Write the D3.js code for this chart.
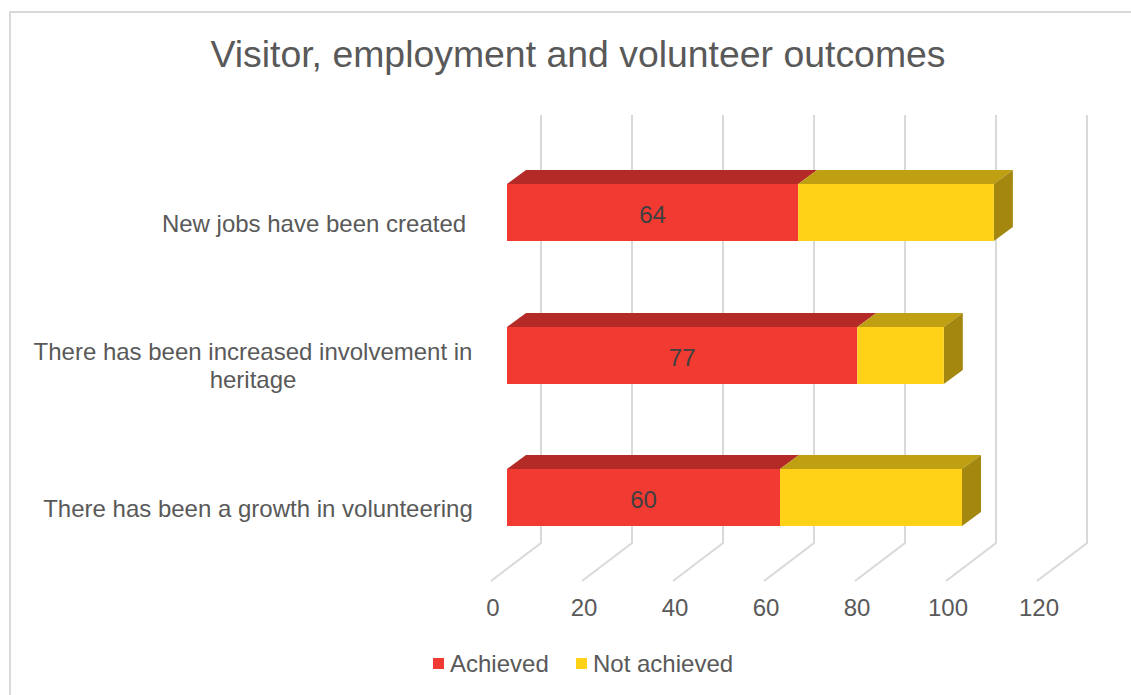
<!DOCTYPE html>
<html>
<head>
<meta charset="utf-8">
<script src="https://cdn.jsdelivr.net/npm/d3@7"></script>
<style>
  html, body { margin: 0; padding: 0; background: #fff; }
  svg { display: block; }
  text { font-family: "Liberation Sans", Arial, sans-serif; fill: #595959; }
</style>
</head>
<body>
<svg></svg>
<script>
// Chart data
const categories = ['New jobs have been created', 'There has been increased involvement in|heritage', 'There has been a growth in volunteering'];
const achieved = [64, 77, 60];
const notAchieved = [43, 19, 40];
const seriesNames = ['Achieved', 'Not achieved'];
const xTicks = [0, 20, 40, 60, 80, 100, 120];

// SVG dimensions
const width = 1131, height = 695;

// 3D depth of the plot box and of the bars
const wallDx = 50, wallDy = -38;
const barDx = 19, barDy = -14;
const floorY = 581, wallTop = 115;

// Category labels are centred on their own wrapped block
const labelCenter = [314, 253, 258];

const colors = {
  front: ['#f03a32', '#ffd217'],
  top: ['#b42a26', '#bfa012'],
  side: '#a3870f'
};

const svg = d3.select('svg').attr('width', width).attr('height', height);

// Scales: x is the front edge of the floor, y places the front face of the bars
const xScale = d3.scaleLinear().domain([0, 120]).range([491, 1037]);
const yScale = d3.scaleBand().domain(categories).range([141.25, 568.75]).paddingInner(0.6).paddingOuter(0.3);

// Chart border, only the top and left edges show
svg.append('path')
  .attr('d', `M10,${height}V12H${width}`)
  .attr('fill', 'none').attr('stroke', '#d9d9d9').attr('stroke-width', 2);

// Title
svg.append('text')
  .attr('x', 578).attr('y', 67)
  .attr('text-anchor', 'middle')
  .style('font-size', '37.4px')
  .text('Visitor, employment and volunteer outcomes');

// Gridlines: floor part and wall part
svg.append('g').selectAll('path').data(xTicks).enter().append('path')
  .attr('fill', 'none').attr('stroke', '#d9d9d9').attr('stroke-width', 2)
  .attr('d', (d) => {
    const x0 = xScale(d);
    return `M${x0},${floorY}L${x0 + wallDx},${floorY + wallDy}V${wallTop}`;
  });

// Tick labels
svg.append('g').selectAll('text').data(xTicks).enter().append('text')
  .attr('x', (d) => xScale(d) + 2)
  .attr('y', 616)
  .attr('text-anchor', 'middle')
  .style('font-size', '24px')
  .text((d) => d);

// Bars start a little in from the front of the floor
const barX = (v) => xScale(v) + 16;

const rows = svg.append('g').selectAll('g').data(categories).enter().append('g');
rows.each(function (c, i) {
  const g = d3.select(this);
  const top = Math.round(yScale(c));
  const barH = yScale.bandwidth();
  const x0 = barX(0), x1 = barX(achieved[i]), x2 = barX(achieved[i] + notAchieved[i]);

  g.append('path').attr('fill', colors.top[0])
    .attr('d', `M${x0},${top}l${barDx},${barDy}H${x1 + barDx}L${x1},${top}Z`);
  g.append('path').attr('fill', colors.top[1])
    .attr('d', `M${x1},${top}l${barDx},${barDy}H${x2 + barDx}L${x2},${top}Z`);
  g.append('path').attr('fill', colors.side)
    .attr('d', `M${x2},${top}l${barDx},${barDy}v${barH}l${-barDx},${-barDy}Z`);
  g.append('rect').attr('x', x0).attr('y', top).attr('width', x1 - x0).attr('height', barH).attr('fill', colors.front[0]);
  g.append('rect').attr('x', x1).attr('y', top).attr('width', x2 - x1).attr('height', barH).attr('fill', colors.front[1]);

  // Value label
  g.append('text')
    .attr('x', (x0 + x1) / 2)
    .attr('y', top + 39)
    .attr('text-anchor', 'middle')
    .style('font-size', '24px')
    .style('fill', '#404040')
    .text(achieved[i]);

  // Category label, "|" marks the line break
  const lines = c.split('|');
  lines.forEach((line, j) => {
    g.append('text')
      .attr('x', labelCenter[i])
      .attr('y', top + 48 - (lines.length - 1) * 15 + j * 28)
      .attr('text-anchor', 'middle')
      .style('font-size', '24px')
      .text(line);
  });
});

// Legend
const legendX = [433, 576];
const legend = svg.append('g').selectAll('g').data(seriesNames).enter().append('g');
legend.append('rect')
  .attr('x', (d, i) => legendX[i]).attr('y', 658)
  .attr('width', 11).attr('height', 11)
  .attr('fill', (d, i) => colors.front[i]);
legend.append('text')
  .attr('x', (d, i) => legendX[i] + 17).attr('y', 672)
  .style('font-size', '24px')
  .text((d) => d);
</script>
</body>
</html>
